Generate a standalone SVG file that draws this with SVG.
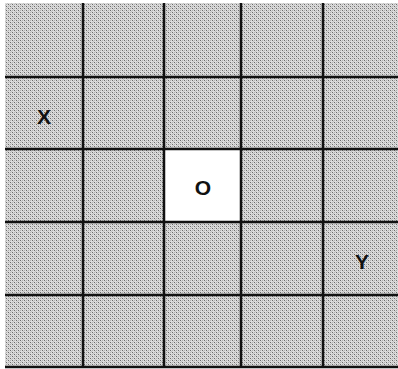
<svg xmlns="http://www.w3.org/2000/svg" width="398" height="369" viewBox="0 0 398 369">
  <style>
    .white { fill: #ffffff; }
    .grid { stroke: #111; stroke-width: 2.5; fill: none; }
    .lbl { font-family: "Liberation Sans", Arial, sans-serif; font-size: 21px; font-weight: bold; fill: #111; text-anchor: middle; }
  </style>
  <defs>
    <pattern id="dither" width="4" height="4" patternUnits="userSpaceOnUse">
      <rect width="4" height="4" fill="#dcdcdc"/>
      <rect x="0" y="0" width="1" height="1" fill="#6a6a6a"/>
      <rect x="2" y="2" width="1" height="1" fill="#6a6a6a"/>
      <rect x="2" y="0" width="1" height="1" fill="#b0b0b0"/>
      <rect x="0" y="2" width="1" height="1" fill="#b0b0b0"/>
      <rect x="1" y="1" width="1" height="1" fill="#c0c0c0"/>
      <rect x="3" y="3" width="1" height="1" fill="#c0c0c0"/>
    </pattern>
  </defs>
  <rect id="background" x="5" y="3" width="393" height="364" fill="url(#dither)"/>
  <g id="cell-O">
    <rect class="white" x="164" y="149" width="77" height="73"/>
    <text class="lbl" x="203" y="195">O</text>
  </g>
  <g id="cell-X">
    <text class="lbl" x="44" y="124">X</text>
  </g>
  <g id="cell-Y">
    <text class="lbl" x="362" y="269">Y</text>
  </g>
  <g id="connectors" class="grid">
    <line x1="83" y1="3" x2="83" y2="368"/>
    <line x1="164" y1="3" x2="164" y2="368"/>
    <line x1="241" y1="3" x2="241" y2="368"/>
    <line x1="323" y1="3" x2="323" y2="368"/>
    <line x1="5" y1="77" x2="398" y2="77"/>
    <line x1="5" y1="149" x2="398" y2="149"/>
    <line x1="5" y1="222" x2="398" y2="222"/>
    <line x1="5" y1="295" x2="398" y2="295"/>
    <line x1="5" y1="367" x2="398" y2="367"/>
  </g>
</svg>
